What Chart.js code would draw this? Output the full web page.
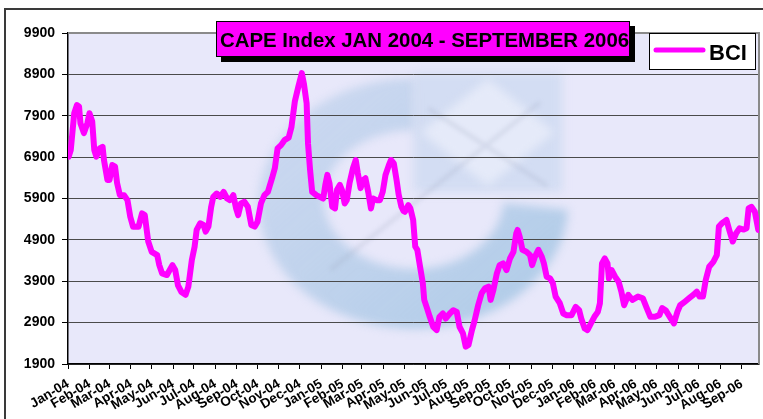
<!DOCTYPE html>
<html>
<head>
<meta charset="utf-8">
<title>CAPE Index JAN 2004 - SEPTEMBER 2006</title>
<script src="https://cdn.jsdelivr.net/npm/chart.js@4/dist/chart.umd.min.js"></script>
<style>
  html, body { margin: 0; padding: 0; background: #fff; }
  #wrap { width: 763px; height: 419px; }
</style>
</head>
<body>
<div id="wrap"><canvas id="capeChart" width="763" height="419"></canvas></div>
<script>
// tick labels on the date axis (one per month start)
const monthLabels = [
  'Jan-04','Feb-04','Mar-04','Apr-04','May-04','Jun-04','Jul-04','Aug-04','Sep-04','Oct-04','Nov-04','Dec-04',
  'Jan-05','Feb-05','Mar-05','Apr-05','May-05','Jun-05','Jul-05','Aug-05','Sep-05','Oct-05','Nov-05','Dec-05',
  'Jan-06','Feb-06','Mar-06','Apr-06','May-06','Jun-06','Jul-06','Aug-06','Sep-06'
];

// BCI series: days since 1 Jan 2004, index value
const bciDays = [
  1,4,9,13,16,18,23,28,31,35,38,41,46,50,52,57,60,64,68,71,75,81,86,90,94,102,107,111,116,121,
  129,132,136,143,151,155,159,164,170,174,179,183,186,191,196,199,203,207,210,215,220,225,230,234,
  239,243,246,250,255,260,265,270,274,279,284,289,295,299,303,308,313,319,323,328,333,338,341,345,
  347,350,353,359,364,369,372,375,378,382,386,389,393,396,400,403,407,412,416,419,423,427,430,434,
  438,441,446,451,455,459,464,467,471,475,478,482,485,487,492,495,499,502,505,509,513,515,519,523,
  528,533,537,542,546,552,557,562,566,571,575,579,584,588,593,598,603,608,611,615,620,624,629,634,
  639,644,648,650,653,657,663,668,671,675,680,685,688,692,697,701,705,711,716,721,728,734,739,742,
  747,751,756,761,766,769,772,776,780,782,786,791,796,800,804,810,816,824,831,836,842,848,855,859,
  864,870,876,881,885,892,898,904,909,913,918,922,927,933,938,941,946,952,956,961,966,971,977,981,
  984,988,993,998
];
const bciValues = [
  6910,7070,7960,8160,8120,7720,7480,7720,7960,7760,7070,6910,7110,7150,6830,6350,6350,6710,6670,6270,
  5980,5980,5860,5460,5220,5220,5540,5500,4860,4610,4530,4290,4090,4050,4290,4170,3800,3640,3570,3770,
  4410,4730,5140,5300,5260,5100,5220,5700,5940,6020,5940,6060,5900,5860,5980,5660,5500,5780,5820,5700,
  5260,5220,5340,5780,5980,6060,6390,6630,7110,7190,7310,7370,7620,8250,8600,8930,8680,8200,7230,6590,
  6060,5980,5940,5900,6230,6470,6270,5700,5660,6110,6230,6110,5780,5860,6270,6630,6830,6510,6150,6350,
  6390,6060,5660,5900,5860,5860,6060,6470,6710,6830,6750,6350,6000,5700,5600,5580,5740,5660,5380,4740,
  4660,4250,3850,3450,3250,3040,2800,2720,3040,3120,3000,3120,3200,3160,2800,2640,2320,2360,2720,2960,
  3320,3610,3730,3770,3450,3690,4090,4290,4330,4170,4450,4610,5050,5140,4980,4660,4610,4530,4290,4490,
  4660,4490,4330,4010,3970,3850,3530,3370,3120,3080,3080,3280,3200,3000,2760,2720,2880,3040,3160,3370,
  4330,4450,4330,3970,4170,4010,3890,3650,3320,3570,3450,3530,3490,3280,3040,3040,3080,3250,3200,3040,
  2880,3160,3320,3410,3490,3570,3650,3530,3530,3930,4250,4370,4530,5220,5310,5380,5140,4860,5060,5180,
  5150,5180,5660,5700,5580,5140
];

const yMin = 1900, yMax = 9900, yStep = 1000;
const xMax = 999; // last day shown (late Sep 2006)

// month starts as day offsets from 1 Jan 2004
const DAY = 86400000;
const monthStarts = monthLabels.map((_, i) => (Date.UTC(2004, i, 1) - Date.UTC(2004, 0, 1)) / DAY);

const FONT = "Arial, 'Liberation Sans', sans-serif";

// background, plot fill and the faint logo watermark
const backdrop = {
  id: 'backdrop',
  beforeDraw(chart) {
    const {ctx, chartArea: a} = chart;
    ctx.save();
    ctx.fillStyle = '#fff';
    ctx.fillRect(0, 0, chart.width, chart.height);
    ctx.strokeStyle = '#3a3a3a';
    ctx.lineWidth = 2;
    ctx.strokeRect(5, 9, chart.width + 20, chart.height + 20);

    ctx.fillStyle = '#E8E8FA';
    ctx.fillRect(a.left, a.top, a.right - a.left, a.bottom - a.top);

    ctx.beginPath();
    ctx.rect(a.left, a.top, a.right - a.left, a.bottom - a.top);
    ctx.clip();
    const w = a.right - a.left, h = a.bottom - a.top;
    const cx = a.left + w * 0.50, cy = a.top + h * 0.515;
    ctx.filter = 'blur(5px)';
    // ring ("C")
    const g = ctx.createLinearGradient(cx - w * 0.22, cy - h * 0.38, cx + w * 0.1, cy + h * 0.38);
    g.addColorStop(0, 'rgba(175,200,230,0.45)');
    g.addColorStop(1, 'rgba(165,198,228,0.8)');
    ctx.fillStyle = g;
    ctx.beginPath();
    ctx.ellipse(cx, cy, w * 0.224, h * 0.378, 0, 0.05, Math.PI * 1.5, false);
    ctx.ellipse(cx, cy - 4, w * 0.13, h * 0.21, 0, Math.PI * 1.5, 0.05, true);
    ctx.closePath();
    ctx.fill();
    // square with lighter diamond
    const sx = cx, sy = a.top + h * 0.12, sw = w * 0.215, sh = h * 0.36;
    ctx.fillStyle = 'rgba(180,205,232,0.4)';
    ctx.fillRect(sx, sy, sw, sh);
    ctx.fillStyle = 'rgba(234,237,250,0.8)';
    ctx.beginPath();
    ctx.moveTo(sx + sw * 0.5, sy + sh * 0.05);
    ctx.lineTo(sx + sw * 0.95, sy + sh * 0.5);
    ctx.lineTo(sx + sw * 0.5, sy + sh * 0.95);
    ctx.lineTo(sx + sw * 0.05, sy + sh * 0.5);
    ctx.closePath();
    ctx.fill();
    ctx.filter = 'blur(2px)';
    ctx.strokeStyle = 'rgba(150,160,185,0.22)';
    ctx.lineWidth = 4;
    ctx.beginPath();
    ctx.moveTo(sx + sw * 0.1, sy + sh * 0.3);
    ctx.lineTo(sx + sw * 0.9, sy + sh * 0.95);
    ctx.moveTo(sx + sw * 0.85, sy + sh * 0.25);
    ctx.lineTo(cx - w * 0.12, cy + h * 0.2);
    ctx.stroke();
    ctx.restore();
  },
  beforeDatasetsDraw(chart) {
    const {ctx, chartArea: a} = chart;
    ctx.save();
    ctx.strokeStyle = '#8a8a8a';
    ctx.lineWidth = 2;
    ctx.beginPath();
    ctx.moveTo(a.left, a.top);
    ctx.lineTo(a.right, a.top);
    ctx.lineTo(a.right, a.bottom);
    ctx.stroke();
    ctx.restore();
  }
};

// title box with shadow, and legend box
const overlay = {
  id: 'overlay',
  afterDraw(chart) {
    const ctx = chart.ctx;
    ctx.save();
    ctx.fillStyle = '#000';
    ctx.fillRect(221, 26, 414, 36);
    ctx.fillStyle = '#FF00FF';
    ctx.fillRect(216, 21, 414, 36);
    ctx.strokeStyle = '#000';
    ctx.lineWidth = 1;
    ctx.strokeRect(216.5, 21.5, 413, 35);
    ctx.fillStyle = '#000';
    ctx.font = 'bold 20.4px ' + FONT;
    ctx.textBaseline = 'alphabetic';
    ctx.fillText('CAPE Index JAN 2004 - SEPTEMBER 2006', 220, 46.5);

    ctx.fillStyle = '#fff';
    ctx.fillRect(649, 33, 107, 37);
    ctx.strokeRect(649.5, 33.5, 106, 36);
    const ds = chart.data.datasets[0];
    ctx.strokeStyle = ds.borderColor;
    ctx.lineWidth = 5;
    ctx.lineCap = 'round';
    ctx.beginPath();
    ctx.moveTo(656, 50);
    ctx.lineTo(703, 50);
    ctx.stroke();
    ctx.fillStyle = '#000';
    ctx.font = 'bold 22px ' + FONT;
    ctx.fillText(ds.label, 709, 60);
    ctx.restore();
  }
};

new Chart(document.getElementById('capeChart'), {
  type: 'line',
  data: {
    datasets: [{
      label: 'BCI',
      data: bciDays.map((d, i) => ({x: d, y: bciValues[i]})),
      borderColor: '#FF00FF',
      borderWidth: 6,
      borderJoinStyle: 'round',
      borderCapStyle: 'round',
      pointRadius: 0,
      tension: 0,
      fill: false
    }]
  },
  options: {
    responsive: false,
    animation: false,
    devicePixelRatio: 1,
    layout: {padding: {top: 33, right: 4, left: 0, bottom: 0}},
    plugins: {legend: {display: false}, tooltip: {enabled: false}},
    scales: {
      x: {
        type: 'linear',
        min: 0,
        max: xMax,
        afterBuildTicks: s => { s.ticks = monthStarts.map(v => ({value: v})); },
        afterFit: s => { s.height = 55; },
        grid: {drawOnChartArea: false, drawTicks: true, tickLength: 5, tickColor: '#000', lineWidth: 1},
        border: {display: true, color: '#000', width: 1.5},
        ticks: {
          autoSkip: false,
          minRotation: 31,
          maxRotation: 31,
          padding: 7,
          color: '#000',
          font: {family: FONT, size: 13.5, weight: 'bold'},
          callback: (v, i) => monthLabels[i]
        }
      },
      y: {
        min: yMin,
        max: yMax,
        afterFit: s => { s.width = 68; },
        grid: {color: '#4a4a4a', lineWidth: 1, tickLength: 6, tickColor: '#000'},
        border: {display: true, color: '#000', width: 1.5},
        ticks: {
          stepSize: yStep,
          padding: 7,
          color: '#000',
          font: {family: FONT, size: 14, weight: 'bold'},
          callback: v => String(v)
        }
      }
    }
  },
  plugins: [backdrop, overlay]
});
</script>
</body>
</html>
